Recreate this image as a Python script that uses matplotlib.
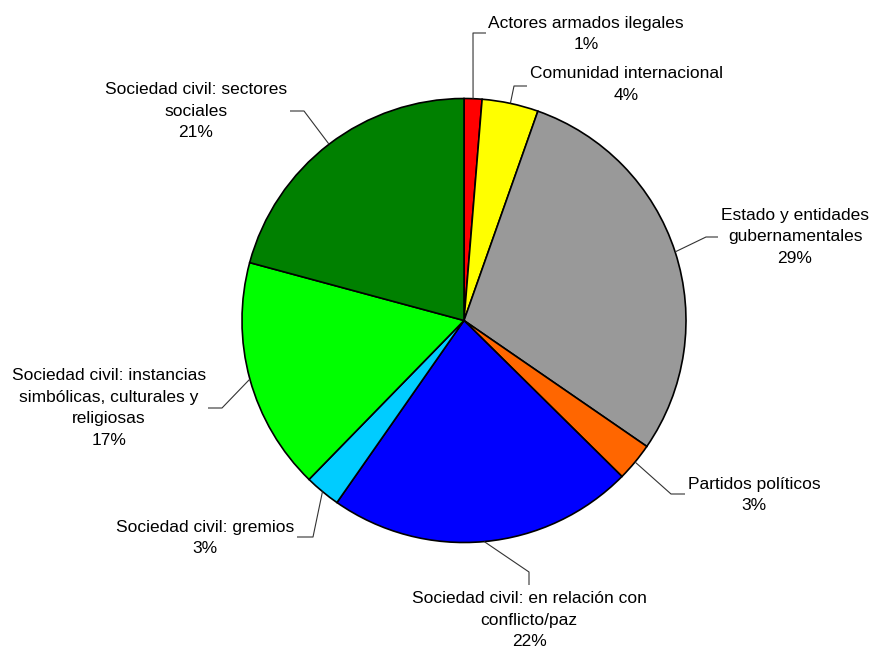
import numpy as np
import matplotlib
matplotlib.use("Agg")
import matplotlib.pyplot as plt

plt.rcParams['font.family'] = ['Liberation Sans', 'DejaVu Sans']

# Share of mentions by actor type (percent), clockwise from 12 o'clock
labels = [
    'Actores armados ilegales',
    'Comunidad internacional',
    'Estado y entidades\ngubernamentales',
    'Partidos políticos',
    'Sociedad civil: en relación con\nconflicto/paz',
    'Sociedad civil: gremios',
    'Sociedad civil: instancias\nsimbólicas, culturales y\nreligiosas',
    'Sociedad civil: sectores\nsociales',
]
values = [1.3, 4.1, 29.2, 2.8, 22.3, 2.6, 16.9, 20.8]
colors = ['#FF0000', '#FFFF00', '#999999', '#FF6600',
          '#0000FF', '#00CCFF', '#00FF00', '#008000']

W, H = 872, 652
cx, cy, r = 464, H - 320.5, 222

# label block centre, leader elbow and leader end (pixel coords, y down)
text_pos = [(586, 34), (626, 84.5), (795, 237), (754, 495),
            (529, 620), (205, 538), (109, 408), (196, 111)]
elbows = [(473, 33), (514, 86), (706, 237), (671, 494),
          (529, 572), (313, 537), (222, 408), (304, 111)]
ends = [(486, 33), (527, 86), (718, 237), (685, 494),
        (529, 585), (297, 537), (208, 408), (290, 111)]

fig = plt.figure(figsize=(W / 100, H / 100), dpi=100)
ax = fig.add_axes([0, 0, 1, 1])

wedges, _ = ax.pie(values, colors=colors, startangle=90, counterclock=False,
                   center=(cx, cy), radius=r, frame=True,
                   wedgeprops=dict(edgecolor='black', linewidth=1.2))
ax.set_xlim(0, W)
ax.set_ylim(0, H)
ax.set_aspect('equal')
ax.axis('off')

total = sum(values)
for w, lab, v, tp, el, en in zip(wedges, labels, values, text_pos, elbows, ends):
    mid = np.deg2rad((w.theta1 + w.theta2) / 2)
    sx, sy = cx + r * np.cos(mid), cy + r * np.sin(mid)
    ax.plot([sx, el[0], en[0]], [sy, H - el[1], H - en[1]],
            color='#333333', linewidth=0.8, solid_capstyle='butt')
    pct = int(100 * v / total + 0.5)
    ax.text(tp[0], H - tp[1], f'{lab}\n{pct}%', ha='center', va='center',
            fontsize=12.5, linespacing=1.56, color='black')

fig.savefig('out.png', dpi=100)
